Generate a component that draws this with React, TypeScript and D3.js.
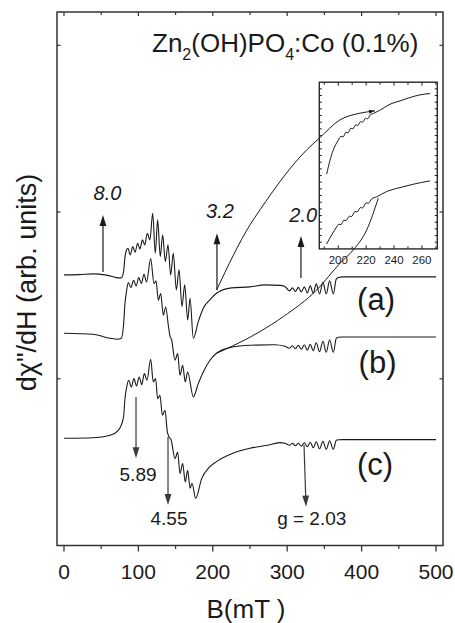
import React from "react";
import * as d3 from "d3";

const W = 455;
const H = 623;
const frame = { left: 57, right: 443, top: 12, bottom: 545.5 };
const FONT = "'Liberation Sans', Arial, Helvetica, sans-serif";

// x axis (B, mT)
const xTicks = [0, 100, 200, 300, 400, 500];
const xMinorTicks = [50, 150, 250, 350, 450];
const yTicks = [100, 200, 300];

// trace offsets (arb. units) and labels
const traceLabels = ["(a)", "(b)", "(c)"];
const baselines = [162.3, 127.3, 64.3];
const labelPos: [number, number][] = [
  [419.4, 141.3],
  [421.4, 103.2],
  [418, 42.3],
];

// signal relative to baseline: [B, value]
const traceA: [number, number][] = [
  [0, 0], [20, 0.2], [40, 0.6], [55, 0], [65, -0.9], [72, -1.8], [77, -1.8],
  [80, 1.8], [82, 10.8], [84, 15], [86, 16], [89, 12], [92.5, 17], [95.5, 13.6],
  [99, 19], [102, 15.6], [105.5, 21], [108.5, 18], [112, 25], [115.5, 21],
  [119.2, 37], [122.7, 13], [125.9, 33], [129.4, 11], [132.6, 24], [136.2, 8],
  [139.8, 18], [143.4, 0], [146.9, 13], [151, -9], [154.6, 3], [158.6, -19],
  [162.2, -6], [166.3, -27], [169.4, -14], [173.8, -38], [180.5, -28],
  [187.2, -20], [196, -15], [205, -11], [225, -7.8], [250, -7.2], [270, -6],
  [290, -6.3], [297, -6.9], [300, -8.4],
  [303, -9.6], [307, -7.8], [311, -9.9], [315, -7.5], [319, -10.2], [323, -7.2],
  [327, -10.8], [331, -6.6], [335, -11.1], [339, -5.4], [343.5, -11.4],
  [348, -4.5], [352.5, -11.4], [357, -3.6], [362, -11.4], [366, -2.4],
  [369, -1.5], [375, -1.2], [500, -1.2],
];

const traceB: [number, number][] = [
  [0, 0], [39, -0.6], [62, -3], [72, -3.6], [77, -3], [80, 4.8], [82, 18],
  [84.2, 25.8], [86.5, 30.4], [90, 27.4], [93.5, 31.8], [97, 28.4],
  [100.5, 33.4], [104, 29.8], [107.5, 35.4], [111, 30.8], [116.5, 44.8],
  [121, 29.8], [123.7, 31.4], [126.8, 19.8], [130, 23.8], [133.5, 10.8],
  [136.7, 15.8], [140.2, 4.8], [142.5, -1.8], [144.5, -3.6], [149.2, -16.2],
  [152.8, -12.2], [155.9, -25.2], [159.5, -19.2], [163, -29.2], [166.2, -23.2],
  [173.8, -38.2], [180.5, -30.2], [187.2, -23.2], [196.2, -16.2], [205, -12],
  [225, -8.4], [250, -7.2], [283, -6.9], [297, -7.8],
  [303, -9], [307, -7.5], [311, -9.3], [315, -7.2], [319, -9.6], [323, -6.9],
  [327, -10.2], [331, -6.6], [335, -10.5], [339, -5.7], [343.5, -11.1],
  [348, -4.8], [352.5, -11.4], [357, -3.9], [362, -11.4], [366, -3],
  [369, -2.4], [375, -2.2], [500, -2.2],
];

const traceC: [number, number][] = [
  [0, 0], [39, 0.3], [62, 1.8], [73, 4.8], [80, 12.6], [82, 24], [84.2, 30.6],
  [87, 34.8], [90.5, 30.8], [94, 35.8], [97.5, 31.4], [101, 36.8],
  [104.5, 32.2], [108, 38.8], [111.5, 34.8], [116.5, 47.4], [120, 33.8],
  [123.1, 35.8], [125.9, 23.8], [129, 25.8], [132.2, 13.8], [135.8, 16.8],
  [138.9, 3.8], [141, 1], [144, -1], [149.2, -12.2], [152.8, -8.2],
  [155.9, -21.2], [159.5, -15.2], [163, -26.2], [166.2, -19.2], [169.5, -30],
  [172, -27], [177, -36], [185, -24.2], [196, -17], [205, -14], [227, -9],
  [250, -6], [273, -4.2], [290, -2.6], [297, -3],
  [303, -4.2], [307, -3], [311, -4.5], [315, -3], [319, -4.8], [323, -2.7],
  [327, -5.1], [331, -2.4], [335, -5.7], [339, -2.1], [343.5, -6.3],
  [348, -1.8], [352.5, -6.6], [357, -1.5], [362, -6.6], [366, -1.2],
  [369, -0.9], [375, -0.8], [500, -0.8],
];

const traces = [traceA, traceB, traceC];

// inset (zoom of 190-270 mT)
const insetBox = { b0: 343.1, b1: 501.7, y0: 177.9, y1: 277.9 };
const insetXDomain: [number, number] = [186.4, 271];
const insetTickLabels = [200, 220, 240, 260];
const insetUpper: [number, number][] = [
  [191.7, 11.2], [194.1, 13.3], [196.4, 14.8], [200, 16.3], [202, 16.9],
  [203.5, 16.8], [205.5, 17.5], [207, 17.4], [209, 18.1], [210.5, 18],
  [212.5, 18.6], [214, 18.5], [216, 19.1], [217.5, 19], [219.5, 19.6],
  [221, 19.5], [223, 20.1], [225.1, 20.3], [229.9, 20.8], [237.1, 21.7],
  [244.3, 22.2], [251.4, 22.7], [258.6, 23.1], [265.8, 23.3],
];
const insetLower: [number, number][] = [
  [191.7, 0.75], [195.3, 2.1], [198.9, 3.3], [200.5, 3.7], [202, 3.65],
  [204, 4.3], [205.5, 4.25], [208, 4.9], [209.5, 4.85], [212, 5.6],
  [213.5, 5.55], [216, 6.2], [217.5, 6.15], [220, 6.9], [221.5, 6.85],
  [224, 7.5], [227.5, 7.8], [234.7, 8.6], [244.3, 9.2], [253.8, 9.7],
  [265.8, 10.2],
];

// connector lines from the spectra to the inset (main data coords)
const connectorUpper: [number, number][] = [
  [205.2, 153.3], [250, 192.3], [263.4, 201.3], [326.2, 237.3],
  [343.1, 244.3], [371, 255.3], [397.8, 259.3], [418, 260.7],
];
const connectorLower: [number, number][] = [
  [205.2, 115.3], [263.4, 128.3], [294.8, 137.3], [339.7, 153.3],
  [371, 169.3], [388.8, 177.3], [406.9, 189.3], [422.4, 208.3],
];

// g-value markers: label, B from, y from, B to, y to, label B, label y, italic
const markers: { text: string; b1: number; y1: number; b2: number; y2: number; lb: number; ly: number; italic: boolean }[] = [
  { text: "8.0", b1: 52.4, y1: 164.1, b2: 52.4, y2: 198.3, lb: 58.5, ly: 207.3, italic: true },
  { text: "3.2", b1: 205.6, y1: 153.3, b2: 205.6, y2: 187.3, lb: 209.7, ly: 196.5, italic: true },
  { text: "2.0", b1: 318.5, y1: 160.5, b2: 318.5, y2: 185.7, lb: 321.6, ly: 194.3, italic: true },
  { text: "5.89", b1: 96.8, y1: 89.1, b2: 96.8, y2: 52.3, lb: 99.5, ly: 38.7, italic: false },
  { text: "4.55", b1: 139.8, y1: 65.1, b2: 139.8, y2: 24.3, lb: 141.1, ly: 12.3, italic: false },
  { text: "g = 2.03", b1: 322.6, y1: 60.3, b2: 325.3, y2: 23.3, lb: 333, ly: 12.3, italic: false },
];

function Arrow({ x1, y1, x2, y2, color }: { x1: number; y1: number; x2: number; y2: number; color: string }) {
  const dx = x2 - x1;
  const dy = y2 - y1;
  const len = Math.hypot(dx, dy);
  const ux = dx / len;
  const uy = dy / len;
  const hl = 11;
  const hw = 3.4;
  const bx = x2 - ux * hl;
  const by = y2 - uy * hl;
  const pts = `${x2},${y2} ${bx - uy * hw},${by + ux * hw} ${bx + uy * hw},${by - ux * hw}`;
  return (
    <g>
      <line x1={x1} y1={y1} x2={bx + ux * 2} y2={by + uy * 2} stroke={color} strokeWidth={1.2} />
      <polygon points={pts} fill={color} />
    </g>
  );
}

export default function App() {
  const x = d3.scaleLinear().domain([-9.4, 509.4]).range([frame.left, frame.right]);
  const y = d3.scaleLinear().domain([0, 320]).range([frame.bottom, frame.top]);

  const line = d3
    .line<[number, number]>()
    .x((d) => x(d[0]))
    .y((d) => y(d[1]))
    .curve(d3.curveMonotoneX);

  const ix = d3
    .scaleLinear()
    .domain(insetXDomain)
    .range([x(insetBox.b0), x(insetBox.b1)]);
  const iy = d3
    .scaleLinear()
    .domain([0, 25])
    .range([y(insetBox.y0), y(insetBox.y1)]);
  const insetLine = d3
    .line<[number, number]>()
    .x((d) => ix(d[0]))
    .y((d) => iy(d[1]))
    .curve(d3.curveMonotoneX);

  const iL = ix.range()[0];
  const iR = ix.range()[1];
  const iB = iy.range()[0];
  const iT = iy.range()[1];

  const ink = "#1a1a1a";

  // upper connector arrow head
  const cu = connectorUpper;
  const cEnd = cu[cu.length - 1];
  const cPrev = cu[cu.length - 2];
  const ex = x(cEnd[0]);
  const ey = y(cEnd[1]);
  const pdx = ex - x(cPrev[0]);
  const pdy = ey - y(cPrev[1]);
  const pl = Math.hypot(pdx, pdy);
  const ux = pdx / pl;
  const uy = pdy / pl;
  const head = `${ex},${ey} ${ex - ux * 6 - uy * 2},${ey - uy * 6 + ux * 2} ${ex - ux * 6 + uy * 2},${ey - uy * 6 - ux * 2}`;

  return (
    <svg width={W} height={H} style={{ position: "absolute", left: 0, top: 0, background: "#fff" }} fontFamily={FONT}>
      <rect x={0} y={0} width={W} height={H} fill="#fff" />

      {/* traces */}
      {traces.map((t, i) => (
        <path
          key={i}
          d={line(t.map((d) => [d[0], d[1] + baselines[i]] as [number, number])) || ""}
          fill="none"
          stroke={ink}
          strokeWidth={1.1}
        />
      ))}

      {/* trace labels */}
      {traceLabels.map((l, i) => (
        <text key={l} x={x(labelPos[i][0])} y={y(labelPos[i][1])} fontSize={31} textAnchor="middle" fill={ink}>
          {l}
        </text>
      ))}

      {/* connectors */}
      <path d={line(connectorUpper) || ""} fill="none" stroke={ink} strokeWidth={1} />
      <polygon points={head} fill={ink} />
      <path d={line(connectorLower) || ""} fill="none" stroke={ink} strokeWidth={1} />

      {/* inset */}
      <rect x={iL} y={iT} width={iR - iL} height={iB - iT} fill="none" stroke={ink} strokeWidth={1.3} />
      {d3.range(190, 271, 10).map((t) => (
        <g key={t}>
          <line x1={ix(t)} x2={ix(t)} y1={iB} y2={iB - (t % 20 === 0 ? 3.5 : 2.5)} stroke={ink} strokeWidth={1} />
          <line x1={ix(t)} x2={ix(t)} y1={iT} y2={iT + (t % 20 === 0 ? 3.5 : 2.5)} stroke={ink} strokeWidth={1} />
        </g>
      ))}
      {d3.range(1, 25).map((t) => (
        <g key={t}>
          <line x1={iL} x2={iL + 2.5} y1={iy(t)} y2={iy(t)} stroke={ink} strokeWidth={1} />
          <line x1={iR} x2={iR - 2.5} y1={iy(t)} y2={iy(t)} stroke={ink} strokeWidth={1} />
        </g>
      ))}
      {insetTickLabels.map((t) => (
        <text key={t} x={ix(t)} y={iB + 15} fontSize={11.5} textAnchor="middle" fill={ink}>
          {t}
        </text>
      ))}
      <path d={insetLine(insetUpper) || ""} fill="none" stroke={ink} strokeWidth={1} />
      <path d={insetLine(insetLower) || ""} fill="none" stroke={ink} strokeWidth={1} />

      {/* g markers */}
      {markers.map((m) => (
        <g key={m.text}>
          <Arrow
            x1={x(m.b1)}
            y1={y(m.y1)}
            x2={x(m.b2)}
            y2={y(m.y2)}
            color={m.italic ? ink : "#3a3a3a"}
          />
          <text
            x={x(m.lb)}
            y={y(m.ly)}
            fontSize={m.italic ? 20 : 19}
            fontStyle={m.italic ? "italic" : "normal"}
            textAnchor="middle"
            fill={ink}
          >
            {m.text}
          </text>
        </g>
      ))}

      {/* title */}
      <text x={152} y={52} fontSize={26} fill={ink}>
        Zn<tspan fontSize={16} dy={8}>2</tspan>
        <tspan dy={-8}>(OH)PO</tspan>
        <tspan fontSize={16} dy={8}>4</tspan>
        <tspan dy={-8}>:Co (0.1%)</tspan>
      </text>

      {/* frame and ticks */}
      <rect
        x={frame.left}
        y={frame.top}
        width={frame.right - frame.left}
        height={frame.bottom - frame.top}
        fill="none"
        stroke="#333"
        strokeWidth={1.5}
      />
      {xTicks.map((t) => (
        <g key={t}>
          <line x1={x(t)} x2={x(t)} y1={frame.bottom} y2={frame.bottom + 6} stroke="#333" strokeWidth={1.3} />
          <line x1={x(t)} x2={x(t)} y1={frame.top} y2={frame.top + 4} stroke="#333" strokeWidth={1.2} />
          <text x={x(t)} y={579} fontSize={21} textAnchor="middle" fill={ink}>
            {t}
          </text>
        </g>
      ))}
      {xMinorTicks.map((t) => (
        <g key={t}>
          <line x1={x(t)} x2={x(t)} y1={frame.bottom} y2={frame.bottom + 3.5} stroke="#333" strokeWidth={1.2} />
          <line x1={x(t)} x2={x(t)} y1={frame.top} y2={frame.top + 3} stroke="#333" strokeWidth={1.2} />
        </g>
      ))}
      {yTicks.map((t) => (
        <g key={t}>
          <line x1={frame.left} x2={frame.left + 3.5} y1={y(t)} y2={y(t)} stroke="#333" strokeWidth={1.2} />
          <line x1={frame.right} x2={frame.right - 3.5} y1={y(t)} y2={y(t)} stroke="#333" strokeWidth={1.2} />
        </g>
      ))}

      {/* axis titles */}
      <text x={246} y={618} fontSize={26} textAnchor="middle" fill={ink}>
        B(mT )
      </text>
      <text transform="translate(36,282.5) rotate(-90)" fontSize={27} textAnchor="middle" fill={ink}>
        {'d\u03C7"/dH (arb.  units)'}
      </text>
    </svg>
  );
}
